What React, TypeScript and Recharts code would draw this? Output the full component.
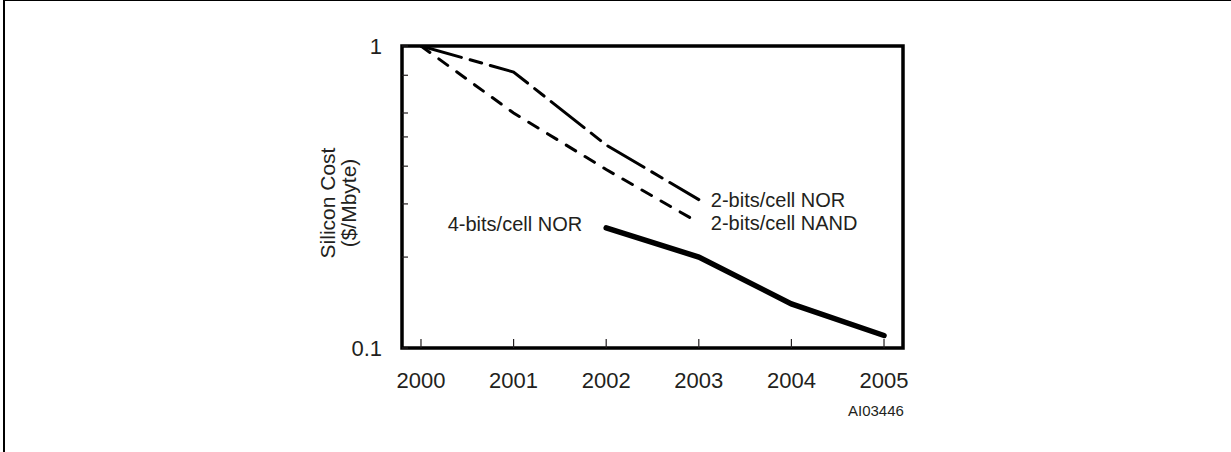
import { LineChart, Line, XAxis, YAxis, ReferenceArea } from "recharts";

// silicon cost per Mbyte, log scale
const years = [2000, 2001, 2002, 2003, 2004, 2005];
const nor2Bits = [1.0, 0.82, 0.47, 0.31, null, null];
const nand2Bits = [1.0, 0.6, 0.39, 0.26, null, null];
const nor4Bits = [null, null, 0.25, 0.2, 0.14, 0.11];
const yTicks = [0.1, 0.2, 0.3, 0.4, 0.5, 0.6, 0.7, 0.8, 0.9, 1];
const yTickLabels: Record<string, string> = { "0.1": "0.1", "1": "1" };

const X_MIN = 1999.795;
const X_MAX = 2005.205;
const INK = "#231f20";
const FONT = "'Liberation Sans', Arial, sans-serif";

const data = years.map((year, i) => ({
  year,
  nor2: nor2Bits[i],
  nand2: nand2Bits[i],
  nor4: nor4Bits[i],
}));

function XTick({ x, y, payload }: any) {
  return (
    <g>
      <line x1={x} y1={y} x2={x} y2={y - 9} stroke={INK} strokeWidth={1.2} />
      <text x={x} y={y + 40} textAnchor="middle" fontSize={22} fontFamily={FONT} fill={INK}>
        {payload.value}
      </text>
    </g>
  );
}

function YTick({ x, y, payload }: any) {
  const label = yTickLabels[String(payload.value)];
  return (
    <g>
      <line x1={x} y1={y} x2={x + 6} y2={y} stroke={INK} strokeWidth={1.2} />
      {label && (
        <text x={x - 20} y={y + 8} textAnchor="end" fontSize={22} fontFamily={FONT} fill={INK}>
          {label}
        </text>
      )}
    </g>
  );
}

// text next to one point of a series
function endLabel(text: string, at: number, dx: number, dy: number, anchor = "start") {
  return (props: any) => {
    if (props.index !== at) return null;
    return (
      <text
        x={props.x + dx}
        y={props.y + dy}
        textAnchor={anchor}
        fontSize={20}
        fontFamily={FONT}
        fill={INK}
      >
        {text}
      </text>
    );
  };
}

export default function App() {
  return (
    <div
      style={{
        position: "absolute",
        left: 0,
        top: 0,
        width: 1231,
        height: 452,
        background: "#fff",
        overflow: "hidden",
      }}
    >
      <div
        style={{
          position: "absolute",
          left: 3,
          top: 0,
          width: 1240,
          height: 460,
          borderTop: "1.5px solid #000",
          borderLeft: "2px solid #000",
        }}
      />
      <div
        style={{
          position: "absolute",
          left: 338,
          top: 203,
          transform: "translate(-50%, -50%) rotate(-90deg)",
          fontFamily: FONT,
          fontSize: 21,
          lineHeight: "21px",
          color: INK,
          textAlign: "center",
          whiteSpace: "nowrap",
        }}
      >
        Silicon Cost
        <br />
        ($/Mbyte)
      </div>
      <div
        style={{
          position: "absolute",
          left: 848,
          top: 402,
          fontFamily: FONT,
          fontSize: 15,
          lineHeight: "17px",
          color: INK,
        }}
      >
        AI03446
      </div>
      <div style={{ position: "absolute", left: 0, top: 0 }}>
        <LineChart
          width={1231}
          height={452}
          data={data}
          margin={{ top: 46, right: 328, bottom: 64, left: 362 }}
        >
          <XAxis
            dataKey="year"
            type="number"
            domain={[X_MIN, X_MAX]}
            ticks={years}
            allowDataOverflow
            height={40}
            tickSize={0}
            tickMargin={0}
            axisLine={false}
            tickLine={false}
            tick={<XTick />}
          />
          <YAxis
            scale="log"
            domain={[0.1, 1]}
            ticks={yTicks}
            allowDataOverflow
            width={40}
            tickSize={0}
            tickMargin={0}
            axisLine={false}
            tickLine={false}
            tick={<YTick />}
          />
          <ReferenceArea
            x1={X_MIN}
            x2={X_MAX}
            y1={0.1}
            y2={1}
            fill="none"
            stroke="#000"
            strokeWidth={3.5}
            ifOverflow="extendDomain"
          />
          <Line
            dataKey="nor2"
            stroke="#000"
            strokeWidth={3}
            strokeDasharray="42 9 12 9"
            strokeLinecap="round"
            dot={false}
            isAnimationActive={false}
            label={endLabel("2-bits/cell NOR", 3, 12, 7)}
          />
          <Line
            dataKey="nand2"
            stroke="#000"
            strokeWidth={3}
            strokeDasharray="11 11"
            strokeLinecap="round"
            dot={false}
            isAnimationActive={false}
            label={endLabel("2-bits/cell NAND", 3, 12, 7)}
          />
          <Line
            dataKey="nor4"
            stroke="#000"
            strokeWidth={5.5}
            strokeLinecap="round"
            dot={false}
            isAnimationActive={false}
            label={endLabel("4-bits/cell NOR", 2, -24, 3, "end")}
          />
        </LineChart>
      </div>
    </div>
  );
}
